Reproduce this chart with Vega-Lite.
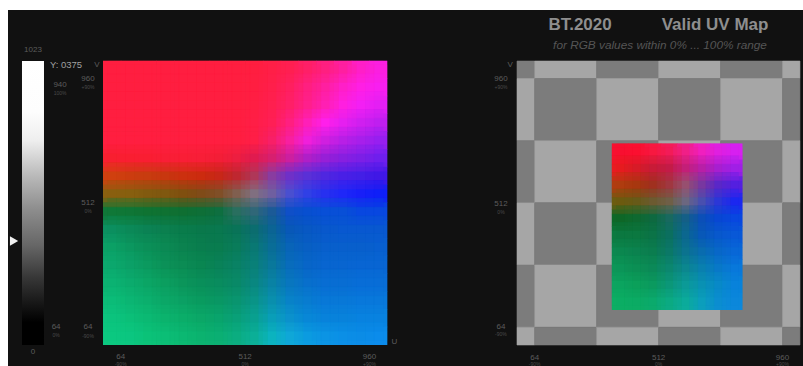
{"$schema":"https://vega.github.io/schema/vega-lite/v6.json","width":795,"height":356,"autosize":{"type":"none"},"padding":{"left":8,"top":10,"right":0,"bottom":0},"background":"#ffffff","view":{"fill":"#111111","stroke":null},
"datasets":{
"m1":[
{"u":0,"v":960,"rgb":"#ff1f40"},{"u":64,"v":960,"rgb":"#ff1f40"},{"u":128,"v":960,"rgb":"#ff1f40"},{"u":192,"v":960,"rgb":"#ff1f40"},{"u":256,"v":960,"rgb":"#ff1f40"},{"u":320,"v":960,"rgb":"#ff1f40"},{"u":384,"v":960,"rgb":"#ff1f40"},{"u":448,"v":960,"rgb":"#ff1f40"},{"u":512,"v":960,"rgb":"#ff1f40"},{"u":576,"v":960,"rgb":"#ff2048"},{"u":640,"v":960,"rgb":"#ff2052"},{"u":704,"v":960,"rgb":"#ff2068"},{"u":768,"v":960,"rgb":"#ff2080"},{"u":832,"v":960,"rgb":"#ff20a0"},{"u":896,"v":960,"rgb":"#ff20c8"},{"u":960,"v":960,"rgb":"#fc20e0"},
{"u":0,"v":896,"rgb":"#ff1f40"},{"u":64,"v":896,"rgb":"#ff1f40"},{"u":128,"v":896,"rgb":"#ff1f40"},{"u":192,"v":896,"rgb":"#ff1f40"},{"u":256,"v":896,"rgb":"#ff1f40"},{"u":320,"v":896,"rgb":"#ff1f40"},{"u":384,"v":896,"rgb":"#ff1f40"},{"u":448,"v":896,"rgb":"#ff1f40"},{"u":512,"v":896,"rgb":"#ff1f42"},{"u":576,"v":896,"rgb":"#ff204c"},{"u":640,"v":896,"rgb":"#ff2060"},{"u":704,"v":896,"rgb":"#ff2080"},{"u":768,"v":896,"rgb":"#ff20a0"},{"u":832,"v":896,"rgb":"#ff20c8"},{"u":896,"v":896,"rgb":"#ff20e4"},{"u":960,"v":896,"rgb":"#f820f0"},
{"u":0,"v":832,"rgb":"#ff1f40"},{"u":64,"v":832,"rgb":"#ff1f40"},{"u":128,"v":832,"rgb":"#ff1f40"},{"u":192,"v":832,"rgb":"#ff1f40"},{"u":256,"v":832,"rgb":"#ff1f40"},{"u":320,"v":832,"rgb":"#ff1f40"},{"u":384,"v":832,"rgb":"#ff1f40"},{"u":448,"v":832,"rgb":"#ff1f40"},{"u":512,"v":832,"rgb":"#ff1f44"},{"u":576,"v":832,"rgb":"#ff2050"},{"u":640,"v":832,"rgb":"#ff2068"},{"u":704,"v":832,"rgb":"#ff208c"},{"u":768,"v":832,"rgb":"#ff20b4"},{"u":832,"v":832,"rgb":"#ff20e0"},{"u":896,"v":832,"rgb":"#f420f5"},{"u":960,"v":832,"rgb":"#e420f5"},
{"u":0,"v":768,"rgb":"#ff1f40"},{"u":64,"v":768,"rgb":"#ff1f40"},{"u":128,"v":768,"rgb":"#ff1f40"},{"u":192,"v":768,"rgb":"#ff1f40"},{"u":256,"v":768,"rgb":"#ff1f40"},{"u":320,"v":768,"rgb":"#ff1f40"},{"u":384,"v":768,"rgb":"#ff1f40"},{"u":448,"v":768,"rgb":"#ff1f40"},{"u":512,"v":768,"rgb":"#ff1f46"},{"u":576,"v":768,"rgb":"#ff2056"},{"u":640,"v":768,"rgb":"#ff2080"},{"u":704,"v":768,"rgb":"#ff20b8"},{"u":768,"v":768,"rgb":"#ff20ec"},{"u":832,"v":768,"rgb":"#e820f0"},{"u":896,"v":768,"rgb":"#d020f0"},{"u":960,"v":768,"rgb":"#c020f0"},
{"u":0,"v":704,"rgb":"#ff1f40"},{"u":64,"v":704,"rgb":"#ff1f40"},{"u":128,"v":704,"rgb":"#ff1f40"},{"u":192,"v":704,"rgb":"#ff1f40"},{"u":256,"v":704,"rgb":"#ff1f40"},{"u":320,"v":704,"rgb":"#ff1f40"},{"u":384,"v":704,"rgb":"#ff1f40"},{"u":448,"v":704,"rgb":"#ff1f40"},{"u":512,"v":704,"rgb":"#ff1f48"},{"u":576,"v":704,"rgb":"#f82068"},{"u":640,"v":704,"rgb":"#f820a0"},{"u":704,"v":704,"rgb":"#f020dc"},{"u":768,"v":704,"rgb":"#d020e0"},{"u":832,"v":704,"rgb":"#b820e8"},{"u":896,"v":704,"rgb":"#a820ec"},{"u":960,"v":704,"rgb":"#9820f0"},
{"u":0,"v":640,"rgb":"#f82030"},{"u":64,"v":640,"rgb":"#fa1e32"},{"u":128,"v":640,"rgb":"#fa1e34"},{"u":192,"v":640,"rgb":"#fa1e36"},{"u":256,"v":640,"rgb":"#fa1e36"},{"u":320,"v":640,"rgb":"#f81e38"},{"u":384,"v":640,"rgb":"#f41e38"},{"u":448,"v":640,"rgb":"#ee1e40"},{"u":512,"v":640,"rgb":"#e01c50"},{"u":576,"v":640,"rgb":"#d82070"},{"u":640,"v":640,"rgb":"#cc20a0"},{"u":704,"v":640,"rgb":"#b020c8"},{"u":768,"v":640,"rgb":"#9820d8"},{"u":832,"v":640,"rgb":"#8820e0"},{"u":896,"v":640,"rgb":"#7c20e8"},{"u":960,"v":640,"rgb":"#7020ee"},
{"u":0,"v":576,"rgb":"#d04010"},{"u":64,"v":576,"rgb":"#cc3e10"},{"u":128,"v":576,"rgb":"#c83c10"},{"u":192,"v":576,"rgb":"#c83810"},{"u":256,"v":576,"rgb":"#cc3010"},{"u":320,"v":576,"rgb":"#cc2c10"},{"u":384,"v":576,"rgb":"#c82818"},{"u":448,"v":576,"rgb":"#c02830"},{"u":512,"v":576,"rgb":"#b03858"},{"u":576,"v":576,"rgb":"#8a3ca0"},{"u":640,"v":576,"rgb":"#7030c8"},{"u":704,"v":576,"rgb":"#5a30d8"},{"u":768,"v":576,"rgb":"#5028e0"},{"u":832,"v":576,"rgb":"#4a20e8"},{"u":896,"v":576,"rgb":"#4420e8"},{"u":960,"v":576,"rgb":"#4018e8"},
{"u":0,"v":512,"rgb":"#8a6010"},{"u":64,"v":512,"rgb":"#886010"},{"u":128,"v":512,"rgb":"#845c10"},{"u":192,"v":512,"rgb":"#805810"},{"u":256,"v":512,"rgb":"#805010"},{"u":320,"v":512,"rgb":"#804c18"},{"u":384,"v":512,"rgb":"#805028"},{"u":448,"v":512,"rgb":"#806050"},{"u":512,"v":512,"rgb":"#807080"},{"u":576,"v":512,"rgb":"#7060a0"},{"u":640,"v":512,"rgb":"#4a50d0"},{"u":704,"v":512,"rgb":"#3040e8"},{"u":768,"v":512,"rgb":"#2830f0"},{"u":832,"v":512,"rgb":"#2028f8"},{"u":896,"v":512,"rgb":"#1820f8"},{"u":960,"v":512,"rgb":"#1020f8"},
{"u":0,"v":448,"rgb":"#107838"},{"u":64,"v":448,"rgb":"#107636"},{"u":128,"v":448,"rgb":"#0f7434"},{"u":192,"v":448,"rgb":"#0f7234"},{"u":256,"v":448,"rgb":"#0f7034"},{"u":320,"v":448,"rgb":"#0e7038"},{"u":384,"v":448,"rgb":"#0e7040"},{"u":448,"v":448,"rgb":"#2a7060"},{"u":512,"v":448,"rgb":"#306878"},{"u":576,"v":448,"rgb":"#1c5c98"},{"u":640,"v":448,"rgb":"#1050c8"},{"u":704,"v":448,"rgb":"#0850d0"},{"u":768,"v":448,"rgb":"#0850d8"},{"u":832,"v":448,"rgb":"#0850d8"},{"u":896,"v":448,"rgb":"#0848e0"},{"u":960,"v":448,"rgb":"#0848e0"},
{"u":0,"v":384,"rgb":"#0c9060"},{"u":64,"v":384,"rgb":"#0c8a58"},{"u":128,"v":384,"rgb":"#0c8454"},{"u":192,"v":384,"rgb":"#0c8050"},{"u":256,"v":384,"rgb":"#0a7c4c"},{"u":320,"v":384,"rgb":"#0a7a4c"},{"u":384,"v":384,"rgb":"#0a7850"},{"u":448,"v":384,"rgb":"#0a7558"},{"u":512,"v":384,"rgb":"#0c6e70"},{"u":576,"v":384,"rgb":"#0c6494"},{"u":640,"v":384,"rgb":"#0858b8"},{"u":704,"v":384,"rgb":"#0858c4"},{"u":768,"v":384,"rgb":"#0858cc"},{"u":832,"v":384,"rgb":"#0858d0"},{"u":896,"v":384,"rgb":"#0858d0"},{"u":960,"v":384,"rgb":"#0858d0"},
{"u":0,"v":320,"rgb":"#0ca066"},{"u":64,"v":320,"rgb":"#0c9860"},{"u":128,"v":320,"rgb":"#0c9058"},{"u":192,"v":320,"rgb":"#0c8a54"},{"u":256,"v":320,"rgb":"#0c8450"},{"u":320,"v":320,"rgb":"#0a7e4e"},{"u":384,"v":320,"rgb":"#0a7c50"},{"u":448,"v":320,"rgb":"#0a7c5c"},{"u":512,"v":320,"rgb":"#0a7874"},{"u":576,"v":320,"rgb":"#0a6e98"},{"u":640,"v":320,"rgb":"#0864b8"},{"u":704,"v":320,"rgb":"#0860c4"},{"u":768,"v":320,"rgb":"#0860cc"},{"u":832,"v":320,"rgb":"#0860cc"},{"u":896,"v":320,"rgb":"#0860cc"},{"u":960,"v":320,"rgb":"#0860d0"},
{"u":0,"v":256,"rgb":"#0ca86e"},{"u":64,"v":256,"rgb":"#0ca268"},{"u":128,"v":256,"rgb":"#0c9a60"},{"u":192,"v":256,"rgb":"#0c9258"},{"u":256,"v":256,"rgb":"#0c8c54"},{"u":320,"v":256,"rgb":"#0a8652"},{"u":384,"v":256,"rgb":"#0a8258"},{"u":448,"v":256,"rgb":"#0a8264"},{"u":512,"v":256,"rgb":"#0a807a"},{"u":576,"v":256,"rgb":"#0a789c"},{"u":640,"v":256,"rgb":"#086cbc"},{"u":704,"v":256,"rgb":"#0866c8"},{"u":768,"v":256,"rgb":"#0866d0"},{"u":832,"v":256,"rgb":"#0866d0"},{"u":896,"v":256,"rgb":"#0866d4"},{"u":960,"v":256,"rgb":"#0866d4"},
{"u":0,"v":192,"rgb":"#0cb272"},{"u":64,"v":192,"rgb":"#0cac6e"},{"u":128,"v":192,"rgb":"#0ca666"},{"u":192,"v":192,"rgb":"#0c9e60"},{"u":256,"v":192,"rgb":"#0c965c"},{"u":320,"v":192,"rgb":"#0a905a"},{"u":384,"v":192,"rgb":"#0a8c5e"},{"u":448,"v":192,"rgb":"#0a8a68"},{"u":512,"v":192,"rgb":"#0a8880"},{"u":576,"v":192,"rgb":"#0a82a4"},{"u":640,"v":192,"rgb":"#0876c0"},{"u":704,"v":192,"rgb":"#0870cc"},{"u":768,"v":192,"rgb":"#086ed4"},{"u":832,"v":192,"rgb":"#086ed4"},{"u":896,"v":192,"rgb":"#086ed8"},{"u":960,"v":192,"rgb":"#086ed8"},
{"u":0,"v":128,"rgb":"#0cbc78"},{"u":64,"v":128,"rgb":"#0cb674"},{"u":128,"v":128,"rgb":"#0cb06e"},{"u":192,"v":128,"rgb":"#0ca868"},{"u":256,"v":128,"rgb":"#0ca264"},{"u":320,"v":128,"rgb":"#0a9c60"},{"u":384,"v":128,"rgb":"#0a9864"},{"u":448,"v":128,"rgb":"#0a9670"},{"u":512,"v":128,"rgb":"#0a9488"},{"u":576,"v":128,"rgb":"#0a90ae"},{"u":640,"v":128,"rgb":"#0884c8"},{"u":704,"v":128,"rgb":"#087cd0"},{"u":768,"v":128,"rgb":"#0878d8"},{"u":832,"v":128,"rgb":"#0878d8"},{"u":896,"v":128,"rgb":"#0878dc"},{"u":960,"v":128,"rgb":"#0878dc"},
{"u":0,"v":64,"rgb":"#0cc47e"},{"u":64,"v":64,"rgb":"#0cc07a"},{"u":128,"v":64,"rgb":"#0cba74"},{"u":192,"v":64,"rgb":"#0cb46e"},{"u":256,"v":64,"rgb":"#0cae6a"},{"u":320,"v":64,"rgb":"#0ca868"},{"u":384,"v":64,"rgb":"#0aa46c"},{"u":448,"v":64,"rgb":"#0aa078"},{"u":512,"v":64,"rgb":"#0aa290"},{"u":576,"v":64,"rgb":"#0a9eb8"},{"u":640,"v":64,"rgb":"#0c92cc"},{"u":704,"v":64,"rgb":"#0888d8"},{"u":768,"v":64,"rgb":"#0884dc"},{"u":832,"v":64,"rgb":"#0884dc"},{"u":896,"v":64,"rgb":"#0884e0"},{"u":960,"v":64,"rgb":"#0884e0"},
{"u":0,"v":0,"rgb":"#0cc880"},{"u":64,"v":0,"rgb":"#0cc680"},{"u":128,"v":0,"rgb":"#0cc27a"},{"u":192,"v":0,"rgb":"#0cbe76"},{"u":256,"v":0,"rgb":"#0cb872"},{"u":320,"v":0,"rgb":"#0cb270"},{"u":384,"v":0,"rgb":"#0cb074"},{"u":448,"v":0,"rgb":"#0cae80"},{"u":512,"v":0,"rgb":"#0cb098"},{"u":576,"v":0,"rgb":"#0cb4c0"},{"u":640,"v":0,"rgb":"#10a8d8"},{"u":704,"v":0,"rgb":"#0c9ce0"},{"u":768,"v":0,"rgb":"#0c94e4"},{"u":832,"v":0,"rgb":"#0c90e8"},{"u":896,"v":0,"rgb":"#0c8ce8"},{"u":960,"v":0,"rgb":"#0c8cec"}
],
"m2":[
{"u":343,"v":666,"rgb":"#f81030"},{"u":402,"v":666,"rgb":"#fc1030"},{"u":461,"v":666,"rgb":"#f81840"},{"u":520,"v":666,"rgb":"#f41c58"},{"u":579,"v":666,"rgb":"#f02088"},{"u":638,"v":666,"rgb":"#f020c0"},{"u":697,"v":666,"rgb":"#e020e0"},{"u":756,"v":666,"rgb":"#d820f0"},
{"u":343,"v":606,"rgb":"#e81c20"},{"u":402,"v":606,"rgb":"#d81c28"},{"u":461,"v":606,"rgb":"#c81c38"},{"u":520,"v":606,"rgb":"#c41c48"},{"u":579,"v":606,"rgb":"#c42078"},{"u":638,"v":606,"rgb":"#b820a8"},{"u":697,"v":606,"rgb":"#a820d0"},{"u":756,"v":606,"rgb":"#a020e8"},
{"u":343,"v":546,"rgb":"#b03c10"},{"u":402,"v":546,"rgb":"#a83810"},{"u":461,"v":546,"rgb":"#a03020"},{"u":520,"v":546,"rgb":"#a03840"},{"u":579,"v":546,"rgb":"#985070"},{"u":638,"v":546,"rgb":"#7838a0"},{"u":697,"v":546,"rgb":"#5c28c8"},{"u":756,"v":546,"rgb":"#5420e0"},
{"u":343,"v":486,"rgb":"#6c5c10"},{"u":402,"v":486,"rgb":"#685c18"},{"u":461,"v":486,"rgb":"#6c5c30"},{"u":520,"v":486,"rgb":"#706048"},{"u":579,"v":486,"rgb":"#6c6880"},{"u":638,"v":486,"rgb":"#4a50b0"},{"u":697,"v":486,"rgb":"#2c38d8"},{"u":756,"v":486,"rgb":"#1c28f0"},
{"u":343,"v":426,"rgb":"#0e6828"},{"u":402,"v":426,"rgb":"#0e6a30"},{"u":461,"v":426,"rgb":"#0e6a40"},{"u":520,"v":426,"rgb":"#186a60"},{"u":579,"v":426,"rgb":"#146088"},{"u":638,"v":426,"rgb":"#0c50b8"},{"u":697,"v":426,"rgb":"#0848d4"},{"u":756,"v":426,"rgb":"#0848e0"},
{"u":343,"v":366,"rgb":"#0c7a40"},{"u":402,"v":366,"rgb":"#0c7840"},{"u":461,"v":366,"rgb":"#0c7448"},{"u":520,"v":366,"rgb":"#0c7060"},{"u":579,"v":366,"rgb":"#0c6890"},{"u":638,"v":366,"rgb":"#0858b8"},{"u":697,"v":366,"rgb":"#0858cc"},{"u":756,"v":366,"rgb":"#0858d8"},
{"u":343,"v":306,"rgb":"#0c8850"},{"u":402,"v":306,"rgb":"#0c8450"},{"u":461,"v":306,"rgb":"#0c7e50"},{"u":520,"v":306,"rgb":"#0c7868"},{"u":579,"v":306,"rgb":"#0c7490"},{"u":638,"v":306,"rgb":"#0a6cb0"},{"u":697,"v":306,"rgb":"#0868c8"},{"u":756,"v":306,"rgb":"#0868d8"},
{"u":343,"v":246,"rgb":"#0c9658"},{"u":402,"v":246,"rgb":"#0c9054"},{"u":461,"v":246,"rgb":"#0c8a58"},{"u":520,"v":246,"rgb":"#0c8870"},{"u":579,"v":246,"rgb":"#0c8890"},{"u":638,"v":246,"rgb":"#0a80b0"},{"u":697,"v":246,"rgb":"#087ac8"},{"u":756,"v":246,"rgb":"#0878dc"},
{"u":343,"v":186,"rgb":"#0ca460"},{"u":402,"v":186,"rgb":"#0ca05c"},{"u":461,"v":186,"rgb":"#0c9a60"},{"u":520,"v":186,"rgb":"#0c9878"},{"u":579,"v":186,"rgb":"#0c9a98"},{"u":638,"v":186,"rgb":"#0a92b4"},{"u":697,"v":186,"rgb":"#088ac8"},{"u":756,"v":186,"rgb":"#0884dc"},
{"u":343,"v":126,"rgb":"#0cae64"},{"u":402,"v":126,"rgb":"#0cac64"},{"u":461,"v":126,"rgb":"#0caa6c"},{"u":520,"v":126,"rgb":"#0caa84"},{"u":579,"v":126,"rgb":"#0cac9c"},{"u":638,"v":126,"rgb":"#0c9ebc"},{"u":697,"v":126,"rgb":"#0c8ed0"},{"u":756,"v":126,"rgb":"#0c88dc"}
],
"checker":[
{"a":0,"b":64,"c":960,"d":1023,"s":"dark"},{"a":64,"b":288,"c":960,"d":1023,"s":"light"},{"a":288,"b":512,"c":960,"d":1023,"s":"dark"},{"a":512,"b":736,"c":960,"d":1023,"s":"light"},{"a":736,"b":960,"c":960,"d":1023,"s":"dark"},{"a":960,"b":1023,"c":960,"d":1023,"s":"light"},
{"a":0,"b":64,"c":736,"d":960,"s":"light"},{"a":64,"b":288,"c":736,"d":960,"s":"dark"},{"a":288,"b":512,"c":736,"d":960,"s":"light"},{"a":512,"b":736,"c":736,"d":960,"s":"dark"},{"a":736,"b":960,"c":736,"d":960,"s":"light"},{"a":960,"b":1023,"c":736,"d":960,"s":"dark"},
{"a":0,"b":64,"c":512,"d":736,"s":"dark"},{"a":64,"b":288,"c":512,"d":736,"s":"light"},{"a":288,"b":512,"c":512,"d":736,"s":"dark"},{"a":512,"b":736,"c":512,"d":736,"s":"light"},{"a":736,"b":960,"c":512,"d":736,"s":"dark"},{"a":960,"b":1023,"c":512,"d":736,"s":"light"},
{"a":0,"b":64,"c":288,"d":512,"s":"light"},{"a":64,"b":288,"c":288,"d":512,"s":"dark"},{"a":288,"b":512,"c":288,"d":512,"s":"light"},{"a":512,"b":736,"c":288,"d":512,"s":"dark"},{"a":736,"b":960,"c":288,"d":512,"s":"light"},{"a":960,"b":1023,"c":288,"d":512,"s":"dark"},
{"a":0,"b":64,"c":64,"d":288,"s":"dark"},{"a":64,"b":288,"c":64,"d":288,"s":"light"},{"a":288,"b":512,"c":64,"d":288,"s":"dark"},{"a":512,"b":736,"c":64,"d":288,"s":"light"},{"a":736,"b":960,"c":64,"d":288,"s":"dark"},{"a":960,"b":1023,"c":64,"d":288,"s":"light"},
{"a":0,"b":64,"c":0,"d":64,"s":"light"},{"a":64,"b":288,"c":0,"d":64,"s":"dark"},{"a":288,"b":512,"c":0,"d":64,"s":"light"},{"a":512,"b":736,"c":0,"d":64,"s":"dark"},{"a":736,"b":960,"c":0,"d":64,"s":"light"},{"a":960,"b":1023,"c":0,"d":64,"s":"dark"}
]
},
"layer":[
{"layer":[
{"data":{"values":[{"a":0,"b":1,"c":0,"d":1023}]},"mark":{"type":"rect","color":{"gradient":"linear","x1":0,"y1":0,"x2":0,"y2":1,"stops":[{"offset":0,"color":"#ffffff"},{"offset":0.18,"color":"#fdfdfd"},{"offset":0.28,"color":"#eeeeee"},{"offset":0.4,"color":"#bbbbbb"},{"offset":0.52,"color":"#8e8e8e"},{"offset":0.65,"color":"#666666"},{"offset":0.76,"color":"#383838"},{"offset":0.85,"color":"#181818"},{"offset":0.92,"color":"#000000"},{"offset":1,"color":"#000000"}]}},"encoding":{"x":{"field":"a","type":"quantitative","scale":{"domain":[-0.636,35.5],"nice":false,"zero":false},"axis":null},"x2":{"field":"b"},"y":{"field":"c","type":"quantitative","scale":{"domain":[-75.65,1206.8],"nice":false,"zero":false},"axis":null},"y2":{"field":"d"}}},
{"data":{"values":[{"t":-0.36,"v":375}]},"mark":{"type":"point","shape":"triangle-right","filled":true,"color":"#f0f0f0","size":90,"opacity":1},"encoding":{"x":{"field":"t","type":"quantitative","scale":{"domain":[-0.636,35.5],"nice":false,"zero":false},"axis":null},"y":{"field":"v","type":"quantitative","scale":{"domain":[-75.65,1206.8],"nice":false,"zero":false},"axis":null}}},
{"data":{"values":[{"t":0.5,"v":1063,"label":"1023"},{"t":0.5,"v":-25,"label":"0"},{"t":1.73,"v":936,"label":"940"},{"t":1.55,"v":64,"label":"64"}]},"mark":{"type":"text","font":"Liberation Sans","fontSize":8,"color":"#5c5c5c"},"encoding":{"x":{"field":"t","type":"quantitative","scale":{"domain":[-0.636,35.5],"nice":false,"zero":false},"axis":null},"y":{"field":"v","type":"quantitative","scale":{"domain":[-75.65,1206.8],"nice":false,"zero":false},"axis":null},"text":{"field":"label"}}},
{"data":{"values":[{"t":1.73,"v":908,"label":"100%"},{"t":1.55,"v":35,"label":"0%"}]},"mark":{"type":"text","font":"Liberation Sans","fontSize":5,"color":"#4a4a4a"},"encoding":{"x":{"field":"t","type":"quantitative","scale":{"domain":[-0.636,35.5],"nice":false,"zero":false},"axis":null},"y":{"field":"v","type":"quantitative","scale":{"domain":[-75.65,1206.8],"nice":false,"zero":false},"axis":null},"text":{"field":"label"}}},
{"data":{"values":[{"t":2.0,"v":1008,"label":"Y: 0375"}]},"mark":{"type":"text","font":"Liberation Sans","fontSize":9.5,"color":"#a0a0a0"},"encoding":{"x":{"field":"t","type":"quantitative","scale":{"domain":[-0.636,35.5],"nice":false,"zero":false},"axis":null},"y":{"field":"v","type":"quantitative","scale":{"domain":[-75.65,1206.8],"nice":false,"zero":false},"axis":null},"text":{"field":"label"}}}
]},
{"layer":[
{"encoding":{"x":{"field":"a","type":"quantitative","scale":{"domain":[-342.2,2521.6],"nice":false,"zero":false},"axis":null},"x2":{"field":"b"},"y":{"field":"c","type":"quantitative","scale":{"domain":[-75.65,1206.8],"nice":false,"zero":false},"axis":null},"y2":{"field":"d"},"color":{"field":"rgb","type":"nominal","scale":null}},
"layer":[
{"data":{"name":"m1"},"transform":[{"calculate":"datum.u","as":"a"},{"calculate":"min(datum.u+66,1024)","as":"b"},{"calculate":"datum.v","as":"c"},{"calculate":"min(datum.v+66,1024)","as":"d"}],"mark":{"type":"rect"}},
{"data":{"name":"m1"},"transform":[{"calculate":"max(datum.u-16,0)","as":"a"},{"calculate":"min(datum.u+50,1024)","as":"b"},{"calculate":"max(datum.v-16,0)","as":"c"},{"calculate":"min(datum.v+50,1024)","as":"d"}],"mark":{"type":"rect","opacity":0.5}},
{"data":{"name":"m1"},"transform":[{"calculate":"max(datum.u+16,0)","as":"a"},{"calculate":"min(datum.u+82,1024)","as":"b"},{"calculate":"max(datum.v-16,0)","as":"c"},{"calculate":"min(datum.v+50,1024)","as":"d"}],"mark":{"type":"rect","opacity":0.33}},
{"data":{"name":"m1"},"transform":[{"calculate":"max(datum.u-16,0)","as":"a"},{"calculate":"min(datum.u+50,1024)","as":"b"},{"calculate":"max(datum.v+16,0)","as":"c"},{"calculate":"min(datum.v+82,1024)","as":"d"}],"mark":{"type":"rect","opacity":0.25}},
{"data":{"name":"m1"},"transform":[{"calculate":"max(datum.u+16,0)","as":"a"},{"calculate":"min(datum.u+82,1024)","as":"b"},{"calculate":"max(datum.v+16,0)","as":"c"},{"calculate":"min(datum.v+82,1024)","as":"d"}],"mark":{"type":"rect","opacity":0.2}}
]},
{"data":{"values":[{"u":64,"v":-43,"label":"64"},{"u":512,"v":-43,"label":"512"},{"u":960,"v":-43,"label":"960"},{"u":-54,"v":960,"label":"960"},{"u":-54,"v":512,"label":"512"},{"u":-54,"v":64,"label":"64"},{"u":-22,"v":1008,"label":"V"},{"u":1050,"v":10,"label":"U"}]},"mark":{"type":"text","font":"Liberation Sans","fontSize":8,"color":"#5c5c5c"},"encoding":{"x":{"field":"u","type":"quantitative","scale":{"domain":[-342.2,2521.6],"nice":false,"zero":false},"axis":null},"y":{"field":"v","type":"quantitative","scale":{"domain":[-75.65,1206.8],"nice":false,"zero":false},"axis":null},"text":{"field":"label"}}},
{"data":{"values":[{"u":64,"v":-68,"label":"-90%"},{"u":512,"v":-68,"label":"0%"},{"u":960,"v":-68,"label":"+90%"},{"u":-54,"v":930,"label":"+90%"},{"u":-54,"v":482,"label":"0%"},{"u":-54,"v":34,"label":"-90%"}]},"mark":{"type":"text","font":"Liberation Sans","fontSize":5,"color":"#4a4a4a"},"encoding":{"x":{"field":"u","type":"quantitative","scale":{"domain":[-342.2,2521.6],"nice":false,"zero":false},"axis":null},"y":{"field":"v","type":"quantitative","scale":{"domain":[-75.65,1206.8],"nice":false,"zero":false},"axis":null},"text":{"field":"label"}}}
]},
{"layer":[
{"data":{"name":"checker"},"mark":{"type":"rect","strokeWidth":0.6},"encoding":{"x":{"field":"a","type":"quantitative","scale":{"domain":[-1840.2,1034],"nice":false,"zero":false},"axis":null},"x2":{"field":"b"},"y":{"field":"c","type":"quantitative","scale":{"domain":[-75.65,1206.8],"nice":false,"zero":false},"axis":null},"y2":{"field":"d"},"color":{"field":"s","type":"nominal","scale":{"domain":["dark","light"],"range":["#7c7c7c","#a6a6a6"]},"legend":null},"stroke":{"field":"s","type":"nominal","scale":{"domain":["dark","light"],"range":["#7c7c7c","#a6a6a6"]},"legend":null}}},
{"encoding":{"x":{"field":"a","type":"quantitative","scale":{"domain":[-1840.2,1034],"nice":false,"zero":false},"axis":null},"x2":{"field":"b"},"y":{"field":"c","type":"quantitative","scale":{"domain":[-75.65,1206.8],"nice":false,"zero":false},"axis":null},"y2":{"field":"d"},"color":{"field":"rgb","type":"nominal","scale":null}},
"layer":[
{"data":{"name":"m2"},"transform":[{"calculate":"datum.u","as":"a"},{"calculate":"min(datum.u+61,815)","as":"b"},{"calculate":"datum.v","as":"c"},{"calculate":"min(datum.v+62,726)","as":"d"}],"mark":{"type":"rect"}},
{"data":{"name":"m2"},"transform":[{"calculate":"max(datum.u-15,343)","as":"a"},{"calculate":"min(datum.u+46,815)","as":"b"},{"calculate":"max(datum.v-15,126)","as":"c"},{"calculate":"min(datum.v+47,726)","as":"d"}],"mark":{"type":"rect","opacity":0.5}},
{"data":{"name":"m2"},"transform":[{"calculate":"max(datum.u+15,343)","as":"a"},{"calculate":"min(datum.u+76,815)","as":"b"},{"calculate":"max(datum.v-15,126)","as":"c"},{"calculate":"min(datum.v+47,726)","as":"d"}],"mark":{"type":"rect","opacity":0.33}},
{"data":{"name":"m2"},"transform":[{"calculate":"max(datum.u-15,343)","as":"a"},{"calculate":"min(datum.u+46,815)","as":"b"},{"calculate":"max(datum.v+15,126)","as":"c"},{"calculate":"min(datum.v+77,726)","as":"d"}],"mark":{"type":"rect","opacity":0.25}},
{"data":{"name":"m2"},"transform":[{"calculate":"max(datum.u+15,343)","as":"a"},{"calculate":"min(datum.u+76,815)","as":"b"},{"calculate":"max(datum.v+15,126)","as":"c"},{"calculate":"min(datum.v+77,726)","as":"d"}],"mark":{"type":"rect","opacity":0.2}}
]},
{"data":{"values":[{"u":64,"v":-46,"label":"64"},{"u":512,"v":-46,"label":"512"},{"u":960,"v":-46,"label":"960"},{"u":-58,"v":958,"label":"960"},{"u":-58,"v":508,"label":"512"},{"u":-58,"v":66,"label":"64"},{"u":-25,"v":1008,"label":"V"}]},"mark":{"type":"text","font":"Liberation Sans","fontSize":8,"color":"#5c5c5c"},"encoding":{"x":{"field":"u","type":"quantitative","scale":{"domain":[-1840.2,1034],"nice":false,"zero":false},"axis":null},"y":{"field":"v","type":"quantitative","scale":{"domain":[-75.65,1206.8],"nice":false,"zero":false},"axis":null},"text":{"field":"label"}}},
{"data":{"values":[{"u":64,"v":-70,"label":"-90%"},{"u":512,"v":-70,"label":"0%"},{"u":960,"v":-70,"label":"+90%"},{"u":-58,"v":930,"label":"+90%"},{"u":-58,"v":480,"label":"0%"},{"u":-58,"v":38,"label":"-90%"}]},"mark":{"type":"text","font":"Liberation Sans","fontSize":5,"color":"#4a4a4a"},"encoding":{"x":{"field":"u","type":"quantitative","scale":{"domain":[-1840.2,1034],"nice":false,"zero":false},"axis":null},"y":{"field":"v","type":"quantitative","scale":{"domain":[-75.65,1206.8],"nice":false,"zero":false},"axis":null},"text":{"field":"label"}}},
{"data":{"values":[{"u":228,"v":1153,"label":"BT.2020"},{"u":716,"v":1153,"label":"Valid UV Map"}]},"mark":{"type":"text","font":"Liberation Sans","fontSize":17,"fontWeight":"bold","color":"#8e8e8e"},"encoding":{"x":{"field":"u","type":"quantitative","scale":{"domain":[-1840.2,1034],"nice":false,"zero":false},"axis":null},"y":{"field":"v","type":"quantitative","scale":{"domain":[-75.65,1206.8],"nice":false,"zero":false},"axis":null},"text":{"field":"label"}}},
{"data":{"values":[{"u":517,"v":1081,"label":"for RGB values within 0% ... 100% range"}]},"mark":{"type":"text","font":"Liberation Sans","fontSize":11.8,"fontStyle":"italic","color":"#555555"},"encoding":{"x":{"field":"u","type":"quantitative","scale":{"domain":[-1840.2,1034],"nice":false,"zero":false},"axis":null},"y":{"field":"v","type":"quantitative","scale":{"domain":[-75.65,1206.8],"nice":false,"zero":false},"axis":null},"text":{"field":"label"}}}
]}
],
"resolve":{"scale":{"x":"independent"}}
}
